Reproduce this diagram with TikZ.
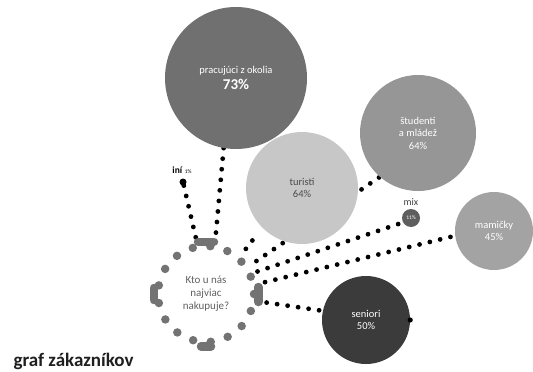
\documentclass[tikz,border=0pt]{standalone}
\usepackage{fontspec}
\setmainfont{Carlito}
\usepackage{tikz}
\usetikzlibrary{backgrounds}
\definecolor{workc}{gray}{0.44}
\definecolor{studc}{gray}{0.59}
\definecolor{turc}{gray}{0.78}
\definecolor{mixc}{gray}{0.37}
\definecolor{mamc}{gray}{0.64}
\definecolor{senc}{gray}{0.23}
\definecolor{ringc}{gray}{0.45}
\newcommand{\bigpct}[1]{{\fontsize{15}{17}\selectfont\bfseries #1}}

\begin{document}
\begin{tikzpicture}[x=1pt,y=-1pt,
  bubble/.style={circle,inner sep=0pt,align=center,text=white,
    font=\fontsize{10.5}{12.5}\selectfont},
  dots/.style={line width=4.8pt,line cap=round,dash pattern=on 0pt off 10.6pt},
  pill/.style={draw=ringc,line width=8.5pt,line cap=round}]
\useasboundingbox (0,0) rectangle (533,372);
\node[bubble,fill=workc,minimum size=142pt] (work) at (236,78)
  {pracujúci z okolia\\[3pt]\bigpct{73\%}};
\node[bubble,fill=studc,minimum size=116pt] (stud) at (418,133)
  {študenti\\a mládež\\64\%};
\node[bubble,fill=turc,minimum size=112pt,text=black!70] (turist) at (302,188)
  {turisti\\64\%};
\node[bubble,fill=mixc,minimum size=18pt,font=\fontsize{5.5}{6}\selectfont,
  label={[text=black!75,font=\fontsize{10}{11}\selectfont,label distance=0pt]above:mix}]
  (mix) at (411,218) {11\%};
\node[bubble,fill=mamc,minimum size=78pt] (mam) at (494,231)
  {mamičky\\45\%};
\node[bubble,fill=senc,minimum size=88pt] (sen) at (366,320)
  {seniori\\50\%};
\fill[black] (sen.east) circle[radius=2.6pt];
\node[circle,fill=black,inner sep=0pt,minimum size=7pt,
  label={[font=\fontsize{9.5}{10}\selectfont,label distance=1pt,xshift=-1pt]above:\textbf{iní}~{\fontsize{5.5}{6}\selectfont 1\%}}]
  (ini) at (183,182) {};
\node[circle,inner sep=0pt,minimum size=96pt,align=center,text=black!62,
  font=\fontsize{11}{13}\selectfont,
  draw=ringc,line width=8.5pt,line cap=round,dash pattern=on 0pt off 17.76pt]
  (center) at (206,294) {Kto u nás\\najviac\\nakupuje?};
\draw[pill] ([xshift=-8pt]center.north) -- ([xshift=8pt]center.north);
\draw[pill] ([yshift=-6pt]center.west) -- ([yshift=6pt]center.west);
\draw[pill] ([yshift=-8pt]center.east) -- ([yshift=7pt]center.east);
\draw[pill] ([xshift=-5pt]center.south) -- ([xshift=5pt]center.south);
\node[anchor=base west,font=\fontsize{19}{22}\selectfont\bfseries,text=black!88]
  (title) at (10,366) {graf zákazníkov};
\begin{pgfonlayer}{background}
\draw[dots] (work.-100) -- (center.80);
\draw[dots] (ini) -- (center.100);
\draw[dots,shorten <=8pt,shorten >=8pt] (center.48) -- (turist.225);
\draw[dots,shorten <=8pt] (center.33) -- (stud.229);
\draw[dots,shorten <=4pt] (center.24) -- (mix.209);
\draw[dots,shorten <=8pt] (center.11) -- (mam.187);
\draw[dots,shorten <=9pt] (center.-8) -- (sen.168);
\end{pgfonlayer}
\end{tikzpicture}
\end{document}
